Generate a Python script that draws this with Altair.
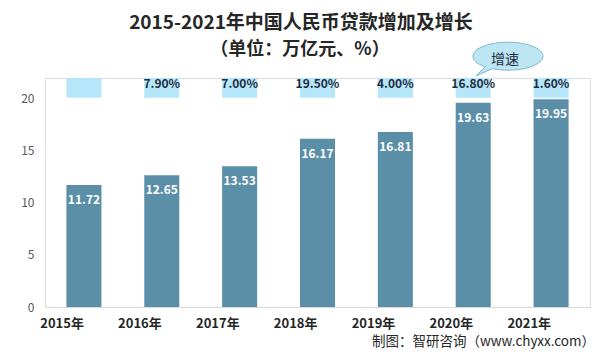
import altair as alt
import pandas as pd

years = ["2015年", "2016年", "2017年", "2018年", "2019年", "2020年", "2021年"]
loans = [11.72, 12.65, 13.53, 16.17, 16.81, 19.63, 19.95]
growth = ["", "7.90%", "7.00%", "19.50%", "4.00%", "16.80%", "1.60%"]

df = pd.DataFrame({"year": years, "loan": loans, "growth": growth,
                   "box_lo": [20.1] * 7, "box_hi": [22.0] * 7})

FONT = "Noto Sans CJK SC"

x = alt.X("year:N", sort=years, title=None,
          scale=alt.Scale(paddingInner=0.55, paddingOuter=0.275),
          axis=alt.Axis(labelAngle=0, labelFont=FONT, labelFontSize=13, labelFontWeight="bold",
                        labelColor="#262626", labelPadding=16, ticks=False,
                        domainColor="#d9d9d9", domainWidth=1))
yscale = alt.Scale(domain=[0, 22], nice=False, zero=True)

base = alt.Chart(df)

bars = base.mark_bar(color="#5b8fa8").encode(
    x=x,
    y=alt.Y("loan:Q", scale=yscale, title=None,
            axis=alt.Axis(values=[0, 5, 10, 15, 20], grid=False, domain=False, ticks=False,
                          labelFont=FONT, labelFontSize=12, labelColor="#595959", labelPadding=11)),
)

boxes = base.mark_bar(color="#b5e6fa").encode(
    x=alt.X("year:N", sort=years),
    y=alt.Y("box_lo:Q", scale=yscale),
    y2="box_hi:Q",
)

val_text = base.mark_text(font=FONT, fontSize=12, fontWeight="bold", color="white",
                          baseline="middle", dy=15).encode(
    x=alt.X("year:N", sort=years),
    y=alt.Y("loan:Q", scale=yscale),
    text=alt.Text("loan:Q", format=".2f"),
)

pct_text = base.mark_text(font=FONT, fontSize=12, fontWeight="bold", color="#1f2d3d",
                          baseline="middle", dy=6).encode(
    x=alt.X("year:N", sort=years),
    y=alt.Y("box_hi:Q", scale=yscale),
    text="growth:N",
)

ann = alt.Chart(pd.DataFrame({"a": [0]}))

title1 = ann.mark_text(font=FONT, fontSize=19, fontWeight="bold", color="#262626",
                       baseline="middle", align="center").encode(
    x=alt.value(256), y=alt.value(-55), text=alt.value("2015-2021年中国人民币贷款增加及增长"))
title2 = ann.mark_text(font=FONT, fontSize=18, fontWeight="bold", color="#262626",
                       baseline="middle", align="center").encode(
    x=alt.value(255), y=alt.value(-28), text=alt.value("（单位：万亿元、%）"))

bubble_path = ("M -0.62 0.31 L -0.886 0.57 L -0.42 0.363 "
               "A 1 0.4 0 1 0 -0.62 0.31 Z")
bubble = ann.mark_point(shape=bubble_path, size=4900, filled=True, fill="#bde6f5",
                        stroke="#7fb9d0", strokeWidth=1, opacity=1).encode(
    x=alt.value(462), y=alt.value(-22))
bubble_text = ann.mark_text(font=FONT, fontSize=14, color="#1f2d3d",
                            baseline="middle", align="center").encode(
    x=alt.value(460), y=alt.value(-18), text=alt.value("增速"))

footer = ann.mark_text(font=FONT, fontSize=13.5, color="#262626",
                       baseline="middle", align="right").encode(
    x=alt.value(550), y=alt.value(264), text=alt.value("制图：智研咨询（www.chyxx.com）"))

chart = alt.layer(boxes, bars, val_text, pct_text, title1, title2, bubble, bubble_text, footer).properties(
    width=545, height=229,
    autosize=alt.AutoSizeParams(type="none"),
    padding={"left": 37, "top": 70, "right": 5, "bottom": 45},
).configure_view(stroke=None).configure(background="white")

chart.save("out.html", embed_options={"renderer": "svg", "actions": False})
